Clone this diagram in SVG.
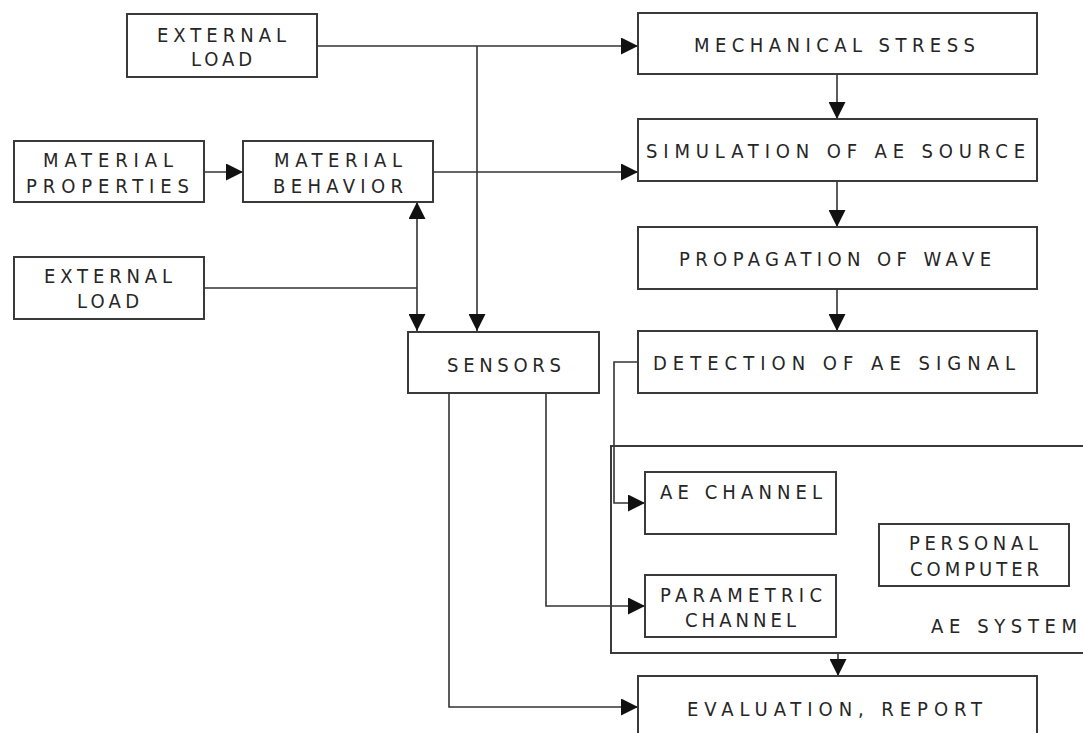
<svg xmlns="http://www.w3.org/2000/svg" width="1083" height="733" viewBox="0 0 1083 733">
<style>
.box{fill:#fff;stroke:#3a3a3a;stroke-width:2}
.ln{fill:none;stroke:#333;stroke-width:1.6}
text{font-family:"DejaVu Sans Condensed","DejaVu Sans","Liberation Sans",sans-serif;font-stretch:condensed;font-size:20px;fill:#262626}
</style>
<defs>
<marker id="ah" viewBox="0 0 17 17" markerWidth="17" markerHeight="17" markerUnits="userSpaceOnUse" refX="17" refY="8.5" orient="auto-start-reverse">
<path d="M0,0 L17,8.5 L0,17 z" fill="#111"/>
</marker>
</defs>
<rect width="1083" height="733" fill="#fff"/>
<g id="connectors">
<path class="ln" d="M317,46 H638" marker-end="url(#ah)"/>
<path class="ln" d="M477,46 V331" marker-end="url(#ah)"/>
<path class="ln" d="M204,172 H243" marker-end="url(#ah)"/>
<path class="ln" d="M433,172 H638" marker-end="url(#ah)"/>
<path class="ln" d="M204,288 H417"/>
<path class="ln" d="M417,202 V331" marker-start="url(#ah)" marker-end="url(#ah)"/>
<path class="ln" d="M837,74 V119" marker-end="url(#ah)"/>
<path class="ln" d="M837,181 V227" marker-end="url(#ah)"/>
<path class="ln" d="M837,289 V331" marker-end="url(#ah)"/>
<path class="ln" d="M638,362 H614 V503 H645" marker-end="url(#ah)"/>
<path class="ln" d="M546,393 V606 H645" marker-end="url(#ah)"/>
<path class="ln" d="M449,393 V707 H638" marker-end="url(#ah)"/>
<path class="ln" d="M838,653 V676" marker-end="url(#ah)"/>
</g>
<g id="ae-system">
<path class="box" style="fill:none" d="M1090,446 H611 V653 H1090"/>
<text x="931" y="633" textLength="146" lengthAdjust="spacing">AE SYSTEM</text>
</g>
<g id="external-load-1">
<rect class="box" x="127" y="14" width="190" height="63"/>
<text x="157" y="42" textLength="129" lengthAdjust="spacing">EXTERNAL</text>
<text x="191" y="66" textLength="61" lengthAdjust="spacing">LOAD</text>
</g>
<g id="material-properties">
<rect class="box" x="14" y="141" width="190" height="61"/>
<text x="43" y="167" textLength="130" lengthAdjust="spacing">MATERIAL</text>
<text x="26" y="193" textLength="163" lengthAdjust="spacing">PROPERTIES</text>
</g>
<g id="material-behavior">
<rect class="box" x="243" y="141" width="190" height="61"/>
<text x="274" y="167" textLength="128" lengthAdjust="spacing">MATERIAL</text>
<text x="273" y="193" textLength="130" lengthAdjust="spacing">BEHAVIOR</text>
</g>
<g id="external-load-2">
<rect class="box" x="14" y="257" width="190" height="62"/>
<text x="44" y="283" textLength="128" lengthAdjust="spacing">EXTERNAL</text>
<text x="77" y="308" textLength="62" lengthAdjust="spacing">LOAD</text>
</g>
<g id="mechanical-stress">
<rect class="box" x="638" y="13" width="399" height="61"/>
<text x="694" y="52" textLength="281" lengthAdjust="spacing">MECHANICAL STRESS</text>
</g>
<g id="simulation">
<rect class="box" x="638" y="119" width="399" height="62"/>
<text x="646" y="158" textLength="379" lengthAdjust="spacing">SIMULATION OF AE SOURCE</text>
</g>
<g id="propagation">
<rect class="box" x="638" y="227" width="399" height="62"/>
<text x="679" y="266" textLength="312" lengthAdjust="spacing">PROPAGATION OF WAVE</text>
</g>
<g id="detection">
<rect class="box" x="638" y="331" width="399" height="62"/>
<text x="653" y="370" textLength="362" lengthAdjust="spacing">DETECTION OF AE SIGNAL</text>
</g>
<g id="sensors">
<rect class="box" x="408" y="332" width="191" height="61"/>
<text x="447" y="372" textLength="114" lengthAdjust="spacing">SENSORS</text>
</g>
<g id="ae-channel">
<rect class="box" x="645" y="472" width="191" height="62"/>
<text x="660" y="499" textLength="162" lengthAdjust="spacing">AE CHANNEL</text>
</g>
<g id="parametric-channel">
<rect class="box" x="645" y="575" width="191" height="62"/>
<text x="660" y="602" textLength="162" lengthAdjust="spacing">PARAMETRIC</text>
<text x="685" y="627" textLength="111" lengthAdjust="spacing">CHANNEL</text>
</g>
<g id="personal-computer">
<rect class="box" x="879" y="524" width="190" height="62"/>
<text x="909" y="550" textLength="129" lengthAdjust="spacing">PERSONAL</text>
<text x="910" y="576" textLength="129" lengthAdjust="spacing">COMPUTER</text>
</g>
<g id="evaluation">
<path class="box" d="M638,745 V676 H1037 V745"/>
<text x="687" y="716" textLength="295" lengthAdjust="spacing">EVALUATION, REPORT</text>
</g>
</svg>
